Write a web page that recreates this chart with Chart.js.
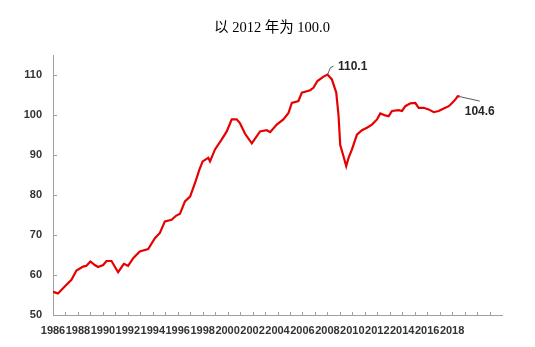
<!DOCTYPE html>
<html>
<head>
<meta charset="utf-8">
<script src="https://cdn.jsdelivr.net/npm/chart.js@4.4.1/dist/chart.umd.min.js"></script>
<style>
html,body{margin:0;padding:0;background:#fff;}
#wrap{width:535px;height:347px;}
</style>
</head>
<body>
<div id="wrap"><canvas id="c" width="535" height="347"></canvas></div>
<script>
// Data (index, 2012 = 100)
const titleText = '以 2012 年为 100.0';
const years = [
  1986.00, 1986.40, 1986.94, 1987.48, 1987.88, 1988.41, 1988.68, 1989.00, 1989.35, 1989.61,
  1990.02, 1990.29, 1990.69, 1991.22, 1991.68, 1992.02, 1992.43, 1992.96, 1993.63, 1994.17,
  1994.57, 1994.97, 1995.51, 1995.86, 1996.18, 1996.58, 1996.99, 1997.39, 1997.73, 1998.00,
  1998.45, 1998.59, 1998.99, 1999.53, 1999.93, 2000.33, 2000.73, 2001.00, 2001.40, 2001.94,
  2002.60, 2003.14, 2003.41, 2003.94, 2004.47, 2004.88, 2005.15, 2005.68, 2005.95, 2006.62,
  2006.88, 2007.20, 2007.69, 2008.01, 2008.36, 2008.71, 2008.89, 2009.03, 2009.29, 2009.51,
  2009.70, 2009.97, 2010.37, 2010.77, 2011.17, 2011.57, 2011.98, 2012.24, 2012.64, 2012.91,
  2013.18, 2013.71, 2013.98, 2014.25, 2014.65, 2015.05, 2015.32, 2015.72, 2016.12, 2016.53,
  2016.92, 2017.33, 2017.73, 2018.00, 2018.27, 2018.45, 2018.61
];
const values = [
  55.8, 55.4, 57.1, 58.8, 61.1, 62.1, 62.3, 63.4, 62.5, 62.0,
  62.5, 63.5, 63.5, 60.7, 62.8, 62.3, 64.2, 65.9, 66.5, 69.2,
  70.5, 73.4, 73.8, 74.8, 75.3, 78.4, 79.6, 83.0, 86.3, 88.4,
  89.3, 88.4, 91.4, 93.9, 95.9, 98.9, 98.9, 97.9, 95.3, 92.9,
  95.9, 96.2, 95.7, 97.6, 98.9, 100.5, 103.0, 103.5, 105.6, 106.2,
  106.8, 108.5, 109.6, 110.1, 108.9, 105.6, 100.0, 92.5, 89.7, 87.2,
  89.3, 91.4, 95.1, 96.2, 96.8, 97.6, 98.9, 100.4, 99.9, 99.7,
  101.0, 101.2, 101.0, 102.2, 102.9, 103.0, 101.8, 101.8, 101.4, 100.7,
  101.0, 101.6, 102.2, 103.0, 103.9, 104.7, 104.6
];
const xTickLabels = [1986,1988,1990,1992,1994,1996,1998,2000,2002,2004,2006,2008,2010,2012,2014,2016,2018];
const yTickLabels = [50,60,70,80,90,100,110];

const axisColor = '#a0a0a0';
const textColor = '#333333';
const labelFont = {family: "'Liberation Sans', Arial, sans-serif", size: 11, weight: 'bold'};

const pageTitle = {
  id: 'pageTitle',
  afterDraw(chart) {
    const {ctx} = chart;
    ctx.save();
    ctx.fillStyle = '#000';
    ctx.font = "14.5px 'Liberation Serif', 'Noto Sans CJK SC', serif";
    ctx.textAlign = 'center';
    ctx.textBaseline = 'middle';
    ctx.fillText(titleText, 272, 28);
    ctx.restore();
  }
};

const innerTicks = {
  id: 'innerTicks',
  afterDraw(chart) {
    const {ctx, scales: {x, y}} = chart;
    ctx.save();
    ctx.strokeStyle = axisColor;
    ctx.lineWidth = 1;
    ctx.beginPath();
    for (let yr = 1986; yr <= 2021; yr++) {
      const px = Math.round(x.getPixelForValue(yr)) + 0.5;
      ctx.moveTo(px, y.bottom);
      ctx.lineTo(px, y.bottom - 3);
    }
    yTickLabels.forEach(v => {
      const py = Math.round(y.getPixelForValue(v)) + 0.5;
      ctx.moveTo(x.left, py);
      ctx.lineTo(x.left + 4, py);
    });
    ctx.stroke();
    ctx.restore();
  }
};

const callouts = {
  id: 'callouts',
  afterDatasetsDraw(chart) {
    const {ctx, scales: {x, y}} = chart;
    let iMax = 0;
    values.forEach((v, i) => { if (v > values[iMax]) iMax = i; });
    const iLast = values.length - 1;
    ctx.save();
    ctx.strokeStyle = '#595959';
    ctx.lineWidth = 1;
    ctx.fillStyle = '#262626';
    ctx.font = "bold 12px 'Liberation Sans', Arial, sans-serif";
    ctx.textBaseline = 'middle';
    ctx.textAlign = 'left';
    let px = x.getPixelForValue(years[iMax]), py = y.getPixelForValue(values[iMax]);
    ctx.beginPath();
    ctx.moveTo(px, py);
    ctx.lineTo(px + 3, py - 7);
    ctx.lineTo(px + 6, py - 8.5);
    ctx.stroke();
    ctx.fillText(values[iMax].toFixed(1), px + 10.5, py - 8);
    px = x.getPixelForValue(years[iLast]); py = y.getPixelForValue(values[iLast]);
    ctx.beginPath();
    ctx.moveTo(px, py);
    ctx.lineTo(px + 20, py + 4.5);
    ctx.stroke();
    ctx.fillText(values[iLast].toFixed(1), px + 5, py + 15.5);
    ctx.restore();
  }
};

new Chart(document.getElementById('c'), {
  type: 'line',
  data: {
    datasets: [{
      data: years.map((yr, i) => ({x: yr, y: values[i]})),
      borderColor: '#e60000',
      borderWidth: 2.2,
      pointRadius: 0,
      tension: 0,
      fill: false
    }]
  },
  options: {
    responsive: false,
    animation: false,
    devicePixelRatio: 1,
    layout: {padding: {top: 55, right: 33, bottom: 0, left: 0}},
    plugins: {
      legend: {display: false},
      tooltip: {enabled: false},
      title: {display: false}
    },
    scales: {
      x: {
        type: 'linear',
        min: 1986,
        max: 2022,
        afterBuildTicks(scale) {
          const t = [];
          for (let yr = 1986; yr <= 2022; yr++) t.push({value: yr});
          scale.ticks = t;
        },
        afterFit(scale) { scale.height = 32; },
        grid: {display: true, drawOnChartArea: false, drawTicks: false},
        border: {display: true, color: axisColor, width: 1},
        ticks: {
          autoSkip: false,
          maxRotation: 0,
          minRotation: 0,
          padding: 9,
          color: textColor,
          font: labelFont,
          callback: v => xTickLabels.includes(v) ? String(v) : ''
        }
      },
      y: {
        min: 50,
        max: 115,
        afterBuildTicks(scale) {
          scale.ticks = yTickLabels.map(v => ({value: v}));
        },
        afterFit(scale) { scale.width = 53; },
        grid: {display: true, drawOnChartArea: false, drawTicks: false},
        border: {display: true, color: axisColor, width: 1},
        ticks: {
          padding: 11,
          color: textColor,
          font: labelFont,
          callback: v => yTickLabels.includes(v) ? String(v) : ''
        }
      }
    }
  },
  plugins: [pageTitle, innerTicks, callouts]
});
</script>
</body>
</html>
